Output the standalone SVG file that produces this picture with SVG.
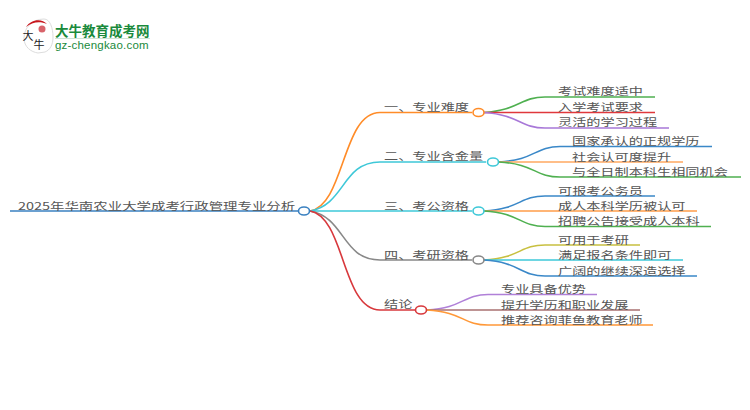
<svg xmlns="http://www.w3.org/2000/svg" width="750" height="410" viewBox="0 0 750 410">
<style>
text{font-family:"Noto Sans CJK SC","Liberation Sans",sans-serif;font-size:10.5px;fill:#555}
.l{fill:none;stroke-width:1.6}
.n{fill:#fff;stroke-width:1.6}
</style>
<rect width="750" height="410" fill="#fff"/>
<g id="logo">
<path d="M44 19C32 19 24 28 24 38C24 47 31 52 38 53L45 52C50 50 53 45 53 37C53 28 50 19 44 19Z" fill="#fff" stroke="#ddd"/>
<path d="M26 27C31 19 42 18 47 24C40 21 32 22 26 27Z" fill="#c8161d"/>
<circle cx="42" cy="29" r="3.500" fill="#d8636a"/>
<text x="22.500" y="40" style="font-size:11px;fill:#222">大</text>
<text x="33.500" y="49" style="font-size:11px;fill:#222">牛</text>
<text x="55" y="36" style="font-size:13.500px;font-weight:700;fill:#1a8a3c">大牛教育成考网</text>
<rect x="55" y="38" width="95" height="1" fill="#cfe3d5"/>
<text x="55" y="49" style="font-size:11.500px;letter-spacing:.2px;fill:#1a8a3c;font-family:'Liberation Sans',sans-serif">gz-chengkao.com</text>
</g>
<g id="connectors">
<path class="l" stroke="#3a80c0" d="M10 211H298"/>
<path class="l" stroke="#ff8c28" d="M310 211C345 205 342 112.500 380 112.500H472"/>
<path class="l" stroke="#3ec8d8" d="M310 211C345 205 342 162 380 162H486"/>
<path class="l" stroke="#3ec8d8" d="M310 211H472"/>
<path class="l" stroke="#888" d="M310 211C345 217 342 260 380 260H472"/>
<path class="l" stroke="#d8383c" d="M310 211C345 217 342 310 380 310H415"/>
<path class="l" stroke="#4fb050" d="M484 112.500C520 110 520 97 545 97H655"/>
<path class="l" stroke="#e0383c" d="M484 112.500H655"/>
<path class="l" stroke="#a878d8" d="M484 112.500C520 115 520 128 545 128H669"/>
<path class="l" stroke="#3a88c8" d="M499 162C535 160 535 146.500 560 146.500H712"/>
<path class="l" stroke="#ffa860" d="M499 162H683"/>
<path class="l" stroke="#4fb050" d="M499 162C535 164 535 177 560 177H741"/>
<path class="l" stroke="#3a88c8" d="M484 211C520 209 520 196 545 196H655"/>
<path class="l" stroke="#ff9c48" d="M484 211H697"/>
<path class="l" stroke="#4fb050" d="M484 211C520 213 520 226.500 545 226.500H711"/>
<path class="l" stroke="#c8c040" d="M484 260C520 258 520 245 545 245H640"/>
<path class="l" stroke="#3ec8d8" d="M484 260H683"/>
<path class="l" stroke="#3a88c8" d="M484 260C520 262 520 276 545 276H697"/>
<path class="l" stroke="#b080d8" d="M427 310C463 308 463 294.500 488 294.500H597"/>
<path class="l" stroke="#a87070" d="M427 310H640"/>
<path class="l" stroke="#ff9838" d="M427 310C463 312 463 325 488 325H653"/>
</g>
<g id="root"><text transform="translate(18 209.500) scale(1.375 1)">2025年华南农业大学成考行政管理专业分析</text><ellipse class="n" cx="304" cy="211" rx="5.500" ry="4" stroke="#3a80c0"/></g>
<g id="b1"><text transform="translate(384 111) scale(1.35 1)">一、专业难度</text><ellipse class="n" cx="478.500" cy="112.500" rx="5.500" ry="4" stroke="#ff8c28"/></g>
<g id="b2"><text transform="translate(384 160) scale(1.35 1)">二、专业含金量</text><ellipse class="n" cx="493" cy="162" rx="5.500" ry="4" stroke="#3ec8d8"/></g>
<g id="b3"><text transform="translate(384 209.500) scale(1.35 1)">三、考公资格</text><ellipse class="n" cx="478.500" cy="211" rx="5.500" ry="4" stroke="#3ec8d8"/></g>
<g id="b4"><text transform="translate(384 258.500) scale(1.35 1)">四、考研资格</text><ellipse class="n" cx="478.500" cy="260" rx="5.500" ry="4" stroke="#888"/></g>
<g id="b5"><text transform="translate(384 308) scale(1.35 1)">结论</text><ellipse class="n" cx="421" cy="310" rx="5.500" ry="4" stroke="#d8383c"/></g>
<g id="leaves">
<text transform="translate(558 95) scale(1.35 1)">考试难度适中</text>
<text transform="translate(558 110.500) scale(1.35 1)">入学考试要求</text>
<text transform="translate(558 126) scale(1.35 1)">灵活的学习过程</text>
<text transform="translate(572 145) scale(1.35 1)">国家承认的正规学历</text>
<text transform="translate(572 160.500) scale(1.35 1)">社会认可度提升</text>
<text transform="translate(572 175.500) scale(1.35 1)">与全日制本科生相同机会</text>
<text transform="translate(558 194.500) scale(1.35 1)">可报考公务员</text>
<text transform="translate(558 209.500) scale(1.35 1)">成人本科学历被认可</text>
<text transform="translate(558 225) scale(1.35 1)">招聘公告接受成人本科</text>
<text transform="translate(558 243.500) scale(1.35 1)">可用于考研</text>
<text transform="translate(558 258.500) scale(1.35 1)">满足报名条件即可</text>
<text transform="translate(558 274.500) scale(1.35 1)">广阔的继续深造选择</text>
<text transform="translate(501 293) scale(1.35 1)">专业具备优势</text>
<text transform="translate(501 308.500) scale(1.35 1)">提升学历和职业发展</text>
<text transform="translate(501 324) scale(1.35 1)">推荐咨询菲鱼教育老师</text>
</g>
</svg>
